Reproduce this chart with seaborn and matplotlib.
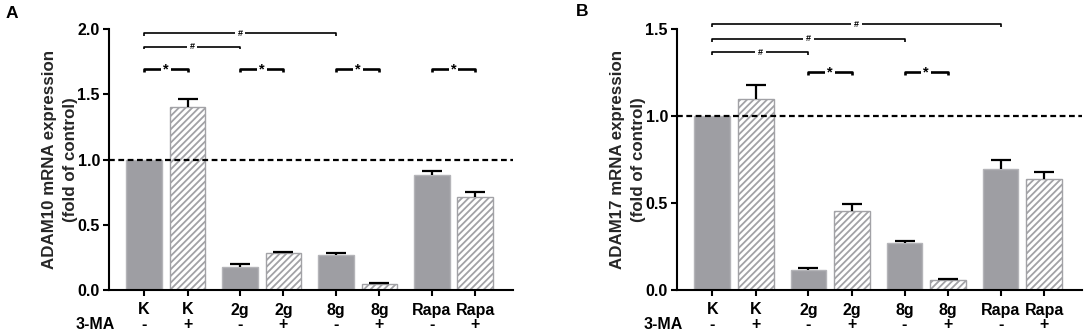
import numpy as np
import pandas as pd
import matplotlib
matplotlib.use("Agg")
import matplotlib.pyplot as plt
import matplotlib.transforms as mtransforms
import seaborn as sns

# ---------------- data ----------------
groups = ["K", "K", "2g", "2g", "8g", "8g", "Rapa", "Rapa"]
ma_signs = ["-", "+", "-", "+", "-", "+", "-", "+"]

adam10_mean = [1.00, 1.40, 0.175, 0.28, 0.27, 0.045, 0.885, 0.71]
adam10_err = [0.0, 0.065, 0.022, 0.010, 0.010, 0.008, 0.030, 0.040]

adam17_mean = [1.00, 1.10, 0.115, 0.456, 0.268, 0.056, 0.697, 0.636]
adam17_err = [0.0, 0.078, 0.013, 0.038, 0.016, 0.007, 0.053, 0.040]

# significance brackets: (bar index 1, bar index 2, y level, label)
adam10_sig = [(0, 4, 1.967, "#"), (0, 2, 1.865, "#"),
              (0, 1, 1.69, "*"), (2, 3, 1.69, "*"), (4, 5, 1.69, "*"), (6, 7, 1.69, "*")]
adam17_sig = [(0, 6, 1.527, "#"), (0, 4, 1.443, "#"), (0, 2, 1.366, "#"),
              (2, 3, 1.251, "*"), (4, 5, 1.251, "*")]

# ---------------- style ----------------
sns.set_theme(style="ticks")
plt.rcParams["font.family"] = ["Liberation Sans", "DejaVu Sans"]
plt.rcParams["font.weight"] = "bold"
plt.rcParams["hatch.linewidth"] = 1.3

SOLID = "#9e9ea3"
SOLID_EDGE = "#b4b4b8"
HATCH_EDGE = "#a2a2a6"
TICK_FS = 11.5

W, H = 1084, 334
fig = plt.figure(figsize=(W / 100, H / 100), dpi=100)
axA = fig.add_axes([109 / W, 44 / H, (513 - 109) / W, 261 / H])
axB = fig.add_axes([677 / W, 44 / H, (1082 - 677) / W, 261 / H])

idx = np.arange(len(groups))
positions = idx + 0.21 * (idx // 2)


def draw_panel(ax, means, errs, sigs, ymax, yticks, ylabel, letter, letter_xy):
    df = pd.DataFrame({"pos": positions, "val": means})
    sns.barplot(data=df, x="pos", y="val", native_scale=True, width=0.82,
                color=SOLID, errorbar=None, ax=ax, saturation=1)
    for i, p in enumerate(ax.patches):
        if i % 2 == 1:
            p.set_facecolor("white")
            p.set_edgecolor(HATCH_EDGE)
            p.set_hatch("/////")
            p.set_linewidth(1.0)
        else:
            p.set_edgecolor(SOLID_EDGE)
            p.set_linewidth(1.0)

    means = np.asarray(means)
    errs = np.asarray(errs)
    m = errs > 0
    eb = ax.errorbar(positions[m], means[m], yerr=[np.zeros(m.sum()), errs[m]],
                     fmt="none", ecolor="black", elinewidth=1.6, capsize=7.5,
                     capthick=1.6, zorder=5)
    eb[1][0].set_visible(False)

    ax.axhline(1.0, color="black", lw=1.6, ls=(0, (2.6, 1.6)), zorder=6)

    ax.set_xlim(positions[0] - 0.81, positions[-1] + 0.87)
    ax.set_ylim(0, ymax)
    ax.set_yticks(yticks)
    ax.set_yticklabels([f"{t:.1f}" for t in yticks])
    ax.set_xticks(positions)
    ax.set_xticklabels(groups)
    ax.set_xlabel("")
    ylab = ax.set_ylabel(ylabel, fontsize=12.2, fontweight="bold")
    ylab.set_linespacing(1.45)
    ax.yaxis.set_label_coords(-0.077, 0.5)
    ax.tick_params(axis="both", direction="out", length=4, width=1.5,
                   labelsize=TICK_FS, color="black", labelcolor="black", pad=2.5)
    ax.tick_params(axis="x", pad=5)
    for lab in ax.get_xticklabels() + ax.get_yticklabels():
        lab.set_fontweight("bold")
    sns.despine(ax=ax)
    for s in ("left", "bottom"):
        ax.spines[s].set_linewidth(1.5)
        ax.spines[s].set_color("black")

    trans = mtransforms.blended_transform_factory(ax.transData, ax.transAxes)
    for p, s in zip(positions, ma_signs):
        ax.text(p, -0.133, s, transform=trans, ha="center", va="center",
                fontsize=TICK_FS, fontweight="bold", color="black")
    ax.text(0.014, -0.133, "3-MA", transform=ax.transAxes, ha="right",
            va="center", fontsize=TICK_FS, fontweight="bold", color="black")

    tick_h = ymax * 0.011
    for i1, i2, y, lab in sigs:
        x1, x2 = positions[i1], positions[i2]
        lw = 1.2 if lab == "#" else 1.9
        ax.plot([x1, x1, x2, x2], [y - tick_h, y, y, y - tick_h],
                color="black", lw=lw, clip_on=False, solid_capstyle="butt",
                zorder=7)
        if lab == "#":
            ax.text((x1 + x2) / 2, y, "#", ha="center", va="center",
                    fontsize=6.5, fontweight="bold", color="black", clip_on=False,
                    zorder=8,
                    bbox=dict(facecolor="white", edgecolor="none", pad=2))
        else:
            ax.text((x1 + x2) / 2, y, "*", ha="center", va="center",
                    fontsize=10.5, fontweight="bold", color="black", clip_on=False,
                    zorder=8,
                    bbox=dict(facecolor="white", edgecolor="none", pad=1.5))

    fig.text(letter_xy[0] / W, 1 - letter_xy[1] / H, letter, ha="left",
             va="center", fontsize=12.5, fontweight="bold", color="black")


draw_panel(axA, adam10_mean, adam10_err, adam10_sig, 2.0,
           [0.0, 0.5, 1.0, 1.5, 2.0],
           "ADAM10 mRNA expression\n(fold of control)", "A", (6, 13))
draw_panel(axB, adam17_mean, adam17_err, adam17_sig, 1.5,
           [0.0, 0.5, 1.0, 1.5],
           "ADAM17 mRNA expression\n(fold of control)", "B", (576, 11))

fig.savefig("out.png", dpi=100)
